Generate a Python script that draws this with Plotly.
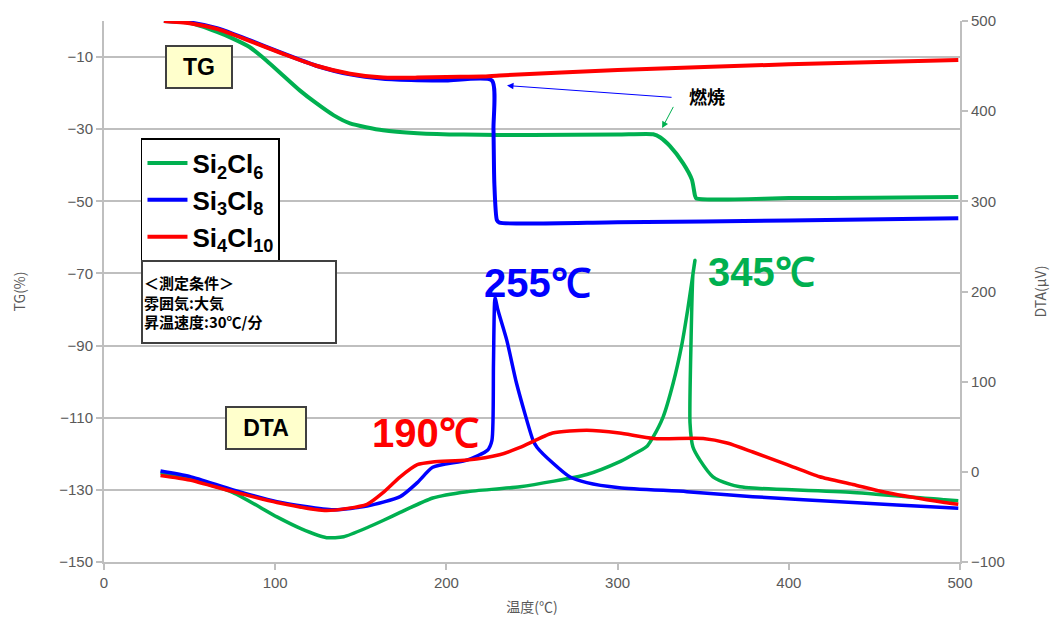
import plotly.graph_objects as go

# ---- TG curves (temperature in °C, mass change in %) ----
tg_si2_t = [35, 50, 66, 75, 85, 95, 104.6, 114.5, 124, 134, 143.7, 163, 183, 210, 250, 300,
            320.8, 325, 330.6, 338.2, 343.4, 345.2, 346, 400, 450, 499]
tg_si2_v = [0, -0.5, -3, -4.8, -7.2, -11, -15.1, -19.3, -22.8, -26.1, -28.4, -30.3, -31.1, -31.5,
            -31.6, -31.5, -31.4, -32.3, -34.7, -39.4, -44, -48.4, -49.2, -49.1, -49.0, -48.8]

tg_si3_t = [35, 50, 66, 85, 104.6, 124, 143.7, 163, 183, 200, 226.6, 227.5, 228, 229.5, 231,
            300, 400, 499]
tg_si3_v = [0, -0.4, -2.0, -5.3, -9.0, -12.4, -14.8, -16.0, -16.4, -16.5, -16.5, -30, -45,
            -55.2, -55.9, -55.8, -55.3, -54.7]

tg_si4_t = [35, 50, 66, 85, 104.6, 124, 143.7, 163, 183, 200, 221, 231, 300, 400, 499]
tg_si4_v = [0, -0.6, -2.2, -5.5, -9.1, -12.4, -14.6, -15.7, -15.7, -15.5, -15.4, -15.1, -13.6,
            -12.0, -10.8]

# ---- DTA curves (temperature in °C, signal in µV) ----
dta_si2_t = [33, 50, 75.4, 101, 115, 130, 140, 153.6, 163, 173, 192, 212, 243, 282, 301, 307,
             317, 320.7, 326.5, 332.4, 337.6, 341.1, 345.2, 344, 342.9, 342.3, 344, 348.1,
             355.7, 365.7, 371.5, 379, 437.5, 491, 499]
dta_si2_v = [-1, -8, -23, -50, -63, -73, -72, -62, -54, -45, -29, -22, -16.5, -3, 11, 17,
             28, 38.5, 60.5, 98, 142, 181.7, 234.5, 219, 145, 54, 27.5, 13, -5.5, -14, -16.5,
             -18, -23, -31, -32]

dta_si3_t = [33, 50, 75.4, 101, 134, 153.6, 173, 183, 192, 212, 224, 226.6, 227.5, 228.4, 230,
             235.4, 241, 250.6, 253, 262, 272, 282, 301, 340.5, 379, 437.5, 491, 499]
dta_si3_v = [1, -5, -20, -33, -42, -38, -27.5, -12, 5, 13, 24, 35, 120, 193, 180, 145, 98, 35,
             27, 10, -5.5, -12, -17.6, -22, -27.5, -34, -39.6, -40.5]

dta_si4_t = [33, 50, 75.4, 101, 130, 153.6, 163, 173, 183, 192, 212, 231, 243, 262, 282, 301,
             321, 350, 364, 379, 399, 418, 437.5, 457, 491, 499]
dta_si4_v = [-4, -9, -22, -34, -43, -36, -23, -5.5, 8, 11, 13, 19, 27, 43, 46, 43, 37, 37, 32,
             22, 8, -5.5, -14, -23, -34, -36]

series_names = ["Si<sub>2</sub>Cl<sub>6</sub>", "Si<sub>3</sub>Cl<sub>8</sub>",
                "Si<sub>4</sub>Cl<sub>10</sub>"]
series_colors = ["#00B050", "#0000FF", "#FF0000"]

tg_data = [(tg_si2_t, tg_si2_v), (tg_si3_t, tg_si3_v), (tg_si4_t, tg_si4_v)]
dta_data = [(dta_si2_t, dta_si2_v), (dta_si3_t, dta_si3_v), (dta_si4_t, dta_si4_v)]

peak_labels = ["345℃", "255℃", "190℃"]

tg_ticks = [-150, -130, -110, -90, -70, -50, -30, -10]
dta_ticks = [-100, 0, 100, 200, 300, 400, 500]
temp_ticks = [0, 100, 200, 300, 400, 500]

AXIS_GREY = "#BFBFBF"
TICK_FONT = dict(family="Liberation Sans, Arial, sans-serif", size=15, color="#595959")
JP_FONT = "Noto Sans CJK JP, sans-serif"
LABEL_FONT = "Liberation Sans, Arial, sans-serif"

fig = go.Figure()

for i, (name, color) in enumerate(zip(series_names, series_colors)):
    t, v = tg_data[i]
    fig.add_trace(go.Scatter(x=t, y=v, mode="lines", name=name, legendgroup=name,
                             line=dict(color=color, width=4, shape="spline", smoothing=0.6),
                             yaxis="y"))
for i, (name, color) in enumerate(zip(series_names, series_colors)):
    t, v = dta_data[i]
    fig.add_trace(go.Scatter(x=t, y=v, mode="lines", name=name, legendgroup=name,
                             showlegend=False,
                             line=dict(color=color, width=3.5, shape="spline", smoothing=0.6),
                             yaxis="y2"))

annotations = [
    # panel tags
    dict(xref="paper", yref="paper", x=0.1104, y=0.9147, xanchor="center", yanchor="middle",
         text="<b>TG</b>", showarrow=False,
         font=dict(family=LABEL_FONT, size=23, color="black"),
         bgcolor="#FFFFCC", bordercolor="#404040", borderwidth=2, width=62, height=38),
    dict(xref="paper", yref="paper", x=0.1887, y=0.2486, xanchor="center", yanchor="middle",
         text="<b>DTA</b>", showarrow=False,
         font=dict(family=LABEL_FONT, size=23, color="black"),
         bgcolor="#FFFFCC", bordercolor="#404040", borderwidth=2, width=76, height=38),
    # measurement conditions
    dict(xref="paper", yref="paper", x=0.0432, y=0.5578, xanchor="left", yanchor="top",
         text="<b>＜測定条件＞<br>雰囲気:大気<br>昇温速度:30℃/分</b>", showarrow=False,
         align="left", font=dict(family=JP_FONT, size=15, color="black"),
         bgcolor="white", bordercolor="#404040", borderwidth=2, width=190, height=78),
    # combustion note and arrows
    dict(x=352, y=-20.9, text="<b>燃焼</b>", showarrow=False,
         font=dict(family=JP_FONT, size=18, color="black")),
    dict(x=235.4, y=-17.9, ax=332.4, ay=-21.2, axref="x", ayref="y", text="",
         showarrow=True, arrowhead=2, arrowsize=1.3, arrowwidth=1, arrowcolor="#0000FF"),
    dict(x=326, y=-29.7, ax=333, ay=-23.4, axref="x", ayref="y", text="",
         showarrow=True, arrowhead=2, arrowsize=1.3, arrowwidth=1, arrowcolor="#00B050"),
    # DTA peak temperatures
    dict(x=384, y=222, yref="y2", text="<b>" + peak_labels[0] + "</b>", showarrow=False,
         font=dict(family=LABEL_FONT, size=40, color="#00B050")),
    dict(x=253.5, y=209, yref="y2", text="<b>" + peak_labels[1] + "</b>", showarrow=False,
         font=dict(family=LABEL_FONT, size=40, color="#0000FF")),
    dict(x=187.5, y=43, yref="y2", text="<b>" + peak_labels[2] + "</b>", showarrow=False,
         font=dict(family=LABEL_FONT, size=40, color="#FF0000")),
]

fig.update_layout(
    width=1061, height=632,
    margin=dict(l=104, r=101, t=17, b=70),
    paper_bgcolor="white", plot_bgcolor="white",
    showlegend=True,
    legend=dict(x=0.0432, y=0.7835, xanchor="left", yanchor="top",
                bgcolor="white", bordercolor="black", borderwidth=1.5,
                font=dict(family=LABEL_FONT, size=26, color="black", weight="bold"),
                tracegroupgap=0, itemwidth=40),
    annotations=annotations,
    xaxis=dict(range=[0, 500], tickvals=temp_ticks, showgrid=False, zeroline=False,
               showline=True, linecolor=AXIS_GREY, linewidth=2,
               ticks="outside", ticklen=6, tickcolor=AXIS_GREY, tickwidth=1.5,
               tickfont=TICK_FONT,
               title=dict(text="温度(℃)", font=dict(family=JP_FONT, size=14, color="#595959"),
                          standoff=12)),
    yaxis=dict(range=[-150, 0], tickvals=tg_ticks, showgrid=True, gridcolor=AXIS_GREY,
               gridwidth=1.5, zeroline=False, showline=True, linecolor=AXIS_GREY,
               linewidth=2, ticks="outside", ticklen=6, tickcolor=AXIS_GREY, tickwidth=1.5,
               tickfont=TICK_FONT,
               title=dict(text="TG(%)", font=dict(family=JP_FONT, size=14, color="#595959"),
                          standoff=30)),
    yaxis2=dict(range=[-100, 500], tickvals=dta_ticks, overlaying="y", side="right",
                showgrid=False, zeroline=False, showline=True, linecolor=AXIS_GREY,
                linewidth=2, ticks="outside", ticklen=6, tickcolor=AXIS_GREY,
                tickwidth=1.5, tickfont=TICK_FONT,
                title=dict(text="DTA(μV)", font=dict(family=JP_FONT, size=14,
                                                     color="#595959"), standoff=32)),
)

fig.write_html("out.html")
